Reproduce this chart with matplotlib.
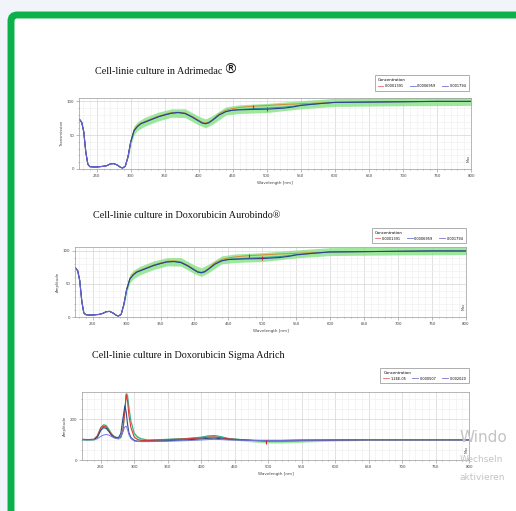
import matplotlib
matplotlib.use('Agg')
import matplotlib.pyplot as plt
from matplotlib.patches import FancyBboxPatch
from matplotlib.lines import Line2D
from matplotlib.ticker import MultipleLocator

W, H = 516, 511

# ---- panel 1: Adrimedac ----
wl1 = [222, 225, 228, 231, 234, 237, 240, 245, 250, 255, 260, 265, 270, 275, 280, 285, 288,
       292, 296, 300, 305, 310, 315, 320, 330, 340, 350, 360, 370, 380, 390, 400, 405, 410,
       415, 420, 430, 440, 450, 460, 475, 500, 525, 540, 550, 575, 600, 650, 700, 750, 800]
navy1 = [75, 73, 69, 55, 25, 7, 3.5, 3, 3, 3.5, 4, 5, 7.5, 8, 6, 2.5, 1.5,
         4, 18, 40, 57, 63, 67, 69, 73, 77, 80, 82.5, 83.5, 82, 77, 71, 68, 67,
         68.5, 72, 80, 85, 87, 87.5, 88, 88.5, 90, 92, 94, 96.5, 98.5, 99, 99.5, 100, 100]
teal1 = [75, 73, 69, 55, 25, 7, 3.5, 3, 3, 3.5, 4, 5, 7.5, 8, 6, 2.5, 1.5,
         4, 18, 40, 57, 63, 67, 69, 73, 77, 80, 82.5, 83.5, 82, 77, 71, 68, 67,
         68.5, 72, 80, 85, 87, 88, 89, 90, 91.5, 93, 94.5, 96.5, 98.5, 99, 99.5, 100, 100]
red1 = [75, 73, 69, 55, 25, 7, 3.5, 3, 3, 3.5, 4, 5, 7.5, 8, 6, 2.5, 1.5,
        4, 18, 41, 58, 64, 68, 70, 74, 78, 81, 83.5, 84, 83, 78, 72, 69, 68,
        69.5, 73, 82, 87, 89.5, 91, 92.5, 94, 95.5, 96, 96.5, 97.5, 98.5, 99, 99.5, 100, 100]
band_wl1 = [296, 300, 305, 310, 320, 340, 360, 380, 400, 410, 420, 440, 460, 500, 550, 600, 700, 800]
band_hi1 = [23, 46, 64, 70, 76, 84, 89, 89, 78, 74, 79, 92, 95, 97, 101, 104.5, 105.5, 106]
band_lo1 = [14, 35, 51, 57, 63, 71, 76.5, 76, 65, 61, 66, 80, 82, 83.5, 89, 92.5, 93.5, 94]
marks1_x = [480, 500]
marks1_y = [92, 89]

# ---- panel 2: Doxorubicin Aurobindo ----
wl2 = wl1
navy2 = [76, 74, 70, 55, 24, 6, 3.5, 3, 3, 3.5, 4, 5.5, 8, 8.5, 6, 2.5, 1.5,
         4, 19, 41, 58, 64, 68, 70, 74, 78, 81, 83.5, 84, 82.5, 77.5, 71, 68, 67,
         68.5, 72, 80, 85, 87, 87.5, 88, 88.5, 90, 92, 94, 96.5, 98.5, 99, 99.5, 100, 100]
teal2 = navy2[:38] + [87.5, 88, 89, 90, 91.5, 93, 94.5, 96.5, 98.5, 99, 99.5, 100, 100]
red2 = [76, 74, 70, 55, 24, 6, 3.5, 3, 3, 3.5, 4, 5.5, 8, 8.5, 6, 2.5, 1.5,
        4, 19, 42, 59, 65, 69, 71, 75, 79, 82, 84.5, 85, 83.5, 78.5, 72, 69, 68,
        69.5, 73, 82, 87, 89.5, 91, 92.5, 94, 95.5, 96, 96.5, 97.5, 98.5, 99, 99.5, 100, 100]
band_hi2 = [24, 47, 65, 71, 77, 85, 90, 90, 78.5, 74.5, 79.5, 92.5, 95.5, 97.5, 101.5, 105, 106, 106]
band_lo2 = [15, 36, 52, 58, 64, 72, 77.5, 77, 65.5, 61.5, 66.5, 80.5, 82.5, 84, 89.5, 93, 94, 94.5]
marks2_x = [480, 500]
marks2_y = [92, 89]

# ---- panel 3: Doxorubicin Sigma Adrich ----
wl3 = [222, 230, 240, 245, 250, 254, 258, 262, 266, 270, 276, 280, 283, 286, 288, 290, 292,
       295, 300, 305, 310, 320, 340, 360, 380, 400, 410, 420, 430, 440, 460, 480, 500, 520,
       550, 600, 650, 700, 800]
green3 = [102, 100, 102, 120, 160, 172, 168, 150, 128, 115, 108, 115, 150, 250, 325, 315, 260,
          190, 130, 112, 104, 98, 100, 103, 106, 112, 118, 120, 114, 106, 100, 94, 90, 90,
          93, 97, 99, 99, 99]
red3 = [101, 100, 101, 117, 155, 165, 162, 145, 125, 113, 107, 112, 140, 240, 320, 290, 220,
        160, 112, 100, 96, 95, 98, 101, 104, 108, 112, 113, 109, 104, 99, 96, 94, 95,
        97, 98, 99, 99, 99]
navy3 = [100, 100, 100, 112, 145, 158, 155, 140, 122, 111, 107, 130, 200, 265, 235, 175, 135,
         110, 96, 92, 91, 91, 93, 96, 99, 103, 106, 107, 104, 101, 98, 96, 96, 96,
         97, 98, 99, 99, 99]
blue3 = [99, 98, 99, 104, 116, 122, 125, 122, 115, 108, 104, 115, 140, 162, 166, 150, 125,
         105, 93, 91, 90, 90, 91, 93, 95, 98, 100, 101, 100, 98, 97, 96, 96, 96,
         97, 98, 99, 99, 99]
band_hi3 = [106, 104, 106, 126, 168, 180, 176, 158, 135, 121, 114, 122, 160, 262, 335, 325, 270,
            198, 138, 119, 110, 104, 105, 108, 111, 117, 123, 125, 119, 111, 105, 99, 96, 96,
            98, 101, 102, 102, 102]
band_lo3 = [97, 95, 97, 112, 150, 162, 158, 141, 119, 108, 101, 106, 138, 235, 312, 302, 248,
            180, 121, 104, 97, 92, 94, 97, 100, 106, 111, 113, 108, 100, 94, 87, 83, 83,
            87, 93, 96, 96, 96]
marks3_x = [497]
marks3_y = [88]

legend_labels1 = ['0,0001391', '0,0006959', '0,001794']
legend_labels3 = ['1,26E-05', '0,000507', '0,002020']
legend_colors = ['#e26b6b', '#6f78d8', '#7a6fd0']

plt.rcParams['font.family'] = 'DejaVu Sans'

fig = plt.figure(figsize=(W / 100, H / 100), dpi=100)
fig.patch.set_facecolor('#f1f4f9')

# green slide frame
fig.patches.append(FancyBboxPatch((11 / W, -0.1), 1.2, 1 - 15 / H + 0.1,
                                  boxstyle='round,pad=0,rounding_size=0.012',
                                  transform=fig.transFigure, facecolor='white',
                                  edgecolor='#0db14b', linewidth=5, zorder=-5))


def px_axes(left, right, top, bottom):
    return fig.add_axes([left / W, 1 - bottom / H, (right - left) / W, (bottom - top) / H])


def style(ax, xlim, ylim, ymajor, yminor, ylabel):
    ax.set_xlim(*xlim)
    ax.set_ylim(*ylim)
    ax.xaxis.set_major_locator(MultipleLocator(50))
    ax.xaxis.set_minor_locator(MultipleLocator(10))
    ax.yaxis.set_major_locator(MultipleLocator(ymajor))
    ax.yaxis.set_minor_locator(MultipleLocator(yminor))
    ax.grid(which='major', color='#d4d4d4', linewidth=0.5)
    ax.grid(which='minor', color='#eeeeee', linewidth=0.4)
    ax.set_axisbelow(True)
    ax.tick_params(which='both', labelsize=2.8, labelcolor='#444444', color='#888888',
                   width=0.4, pad=1.5)
    ax.tick_params(which='major', length=2)
    ax.tick_params(which='minor', length=1)
    for s in ax.spines.values():
        s.set_color('#9a9a9a')
        s.set_linewidth(0.5)
    ax.set_xlabel('Wavelength [nm]', fontsize=3, color='#444444', labelpad=2)
    ax.set_ylabel(ylabel, fontsize=2.8, color='#444444', labelpad=2)
    ax.text(0.993, 0.1, 'Max', transform=ax.transAxes, rotation=90, fontsize=2.5,
            color='#444444', ha='center', va='bottom')


def legend(ax, labels, anchor):
    handles = [Line2D([], [], color=c, lw=0.6) for c in legend_colors]
    lg = ax.legend(handles, labels, title='Concentration', ncol=3, loc='upper right',
                   bbox_to_anchor=anchor, borderaxespad=0, fontsize=2.5,
                   title_fontsize=2.8, frameon=True, fancybox=False, handlelength=1.6,
                   columnspacing=1.8, handletextpad=0.4, borderpad=0.8, alignment='left')
    lg.get_frame().set_edgecolor('#999999')
    lg.get_frame().set_linewidth(0.7)


band_color = '#86e386'

# panel 1
ax1 = px_axes(79, 471, 98, 169)
ax1.fill_between(band_wl1, band_lo1, band_hi1, color=band_color, alpha=0.8, lw=0)
ax1.plot(wl1, red1, color='#d98a2a', lw=0.7)
ax1.plot(wl1, teal1, color='#2b9aa0', lw=0.7)
ax1.plot(wl1, navy1, color='#2f3f90', lw=0.8)
ax1.plot(wl1[:20], navy1[:20], color='#6a5fd8', lw=0.8)
ax1.plot(marks1_x, marks1_y, ls='none', marker='|', color='#e02020', ms=2.5, mew=0.8)
style(ax1, (224, 800), (0, 105), 50, 10, 'Transmission')
legend(ax1, legend_labels1, (0.995, 1.32))

# panel 2
ax2 = px_axes(75, 466, 247, 317)
ax2.fill_between(band_wl1, band_lo2, band_hi2, color=band_color, alpha=0.8, lw=0)
ax2.plot(wl2, red2, color='#d98a2a', lw=0.7)
ax2.plot(wl2, teal2, color='#2b9aa0', lw=0.7)
ax2.plot(wl2, navy2, color='#2f3f90', lw=0.8)
ax2.plot(wl2[:20], navy2[:20], color='#6a5fd8', lw=0.8)
ax2.plot(marks2_x, marks2_y, ls='none', marker='|', color='#e02020', ms=2.5, mew=0.8)
style(ax2, (224, 800), (0, 106), 50, 10, 'Amplitude')
legend(ax2, legend_labels1, (1.0, 1.27))

# panel 3
ax3 = px_axes(82, 469, 392, 460)
ax3.fill_between(wl3, band_lo3, band_hi3, color=band_color, alpha=0.75, lw=0)
ax3.plot(wl3, green3, color='#2ea89a', lw=0.7)
ax3.plot(wl3, red3, color='#e03a2a', lw=0.8)
ax3.plot(wl3, navy3, color='#2f4a8a', lw=0.8)
ax3.plot(wl3, blue3, color='#7178e0', lw=0.7)
ax3.plot(marks3_x, marks3_y, ls='none', marker='|', color='#e02020', ms=2.5, mew=0.8)
style(ax3, (222, 800), (0, 333), 200, 50, 'Amplitude')
legend(ax3, legend_labels3, (1.0, 1.35))

# titles
tfont = dict(family='Liberation Serif', fontsize=7.3, color='#111111', va='center', ha='left')
fig.text(95 / W, 1 - 72 / H, 'Cell-linie culture in Adrimedac', **tfont)
fig.text(223 / W, 1 - 70 / H, '®', family='DejaVu Sans', fontsize=10, color='#111111',
         va='center', ha='left')
fig.text(93 / W, 1 - 215 / H, 'Cell-linie culture in Doxorubicin Aurobindo®', **tfont)
fig.text(92 / W, 1 - 356 / H, 'Cell-linie culture in Doxorubicin Sigma Adrich', **tfont)

# windows activation watermark (cut off by the screenshot edge)
fig.text(460 / W, 1 - 438 / H, 'Windo', fontsize=11, color='#c4c4c4', va='center')
fig.text(460 / W, 1 - 460 / H, 'Wechseln', fontsize=6.5, color='#c4c4c4', va='center')
fig.text(460 / W, 1 - 478 / H, 'aktivieren', fontsize=6.5, color='#c4c4c4', va='center')

fig.savefig('out.png', dpi=100, facecolor=fig.get_facecolor())
